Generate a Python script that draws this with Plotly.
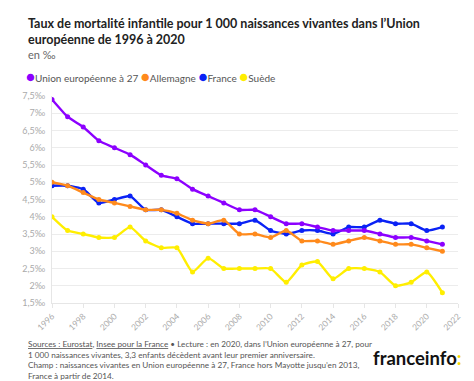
import plotly.graph_objects as go

years = list(range(1996, 2022))
ue27 = [7.4, 6.9, 6.6, 6.2, 6.0, 5.8, 5.5, 5.2, 5.1, 4.8, 4.6, 4.4, 4.2, 4.2, 4.0, 3.8, 3.8, 3.7, 3.6, 3.6, 3.6, 3.5, 3.4, 3.4, 3.3, 3.2]
allemagne = [5.0, 4.9, 4.7, 4.5, 4.4, 4.3, 4.2, 4.2, 4.1, 3.9, 3.8, 3.9, 3.5, 3.5, 3.4, 3.6, 3.3, 3.3, 3.2, 3.3, 3.4, 3.3, 3.2, 3.2, 3.1, 3.0]
france = [4.9, 4.9, 4.8, 4.4, 4.5, 4.6, 4.2, 4.2, 4.0, 3.8, 3.8, 3.8, 3.8, 3.9, 3.6, 3.5, 3.6, 3.6, 3.5, 3.7, 3.7, 3.9, 3.8, 3.8, 3.6, 3.7]
suede = [4.0, 3.6, 3.5, 3.4, 3.4, 3.7, 3.3, 3.1, 3.1, 2.4, 2.8, 2.5, 2.5, 2.5, 2.5, 2.1, 2.6, 2.7, 2.2, 2.5, 2.5, 2.4, 2.0, 2.1, 2.4, 1.8]

series_names = ["Union européenne à 27", "Allemagne", "France", "Suède"]
series_values = [ue27, allemagne, france, suede]
colors = ["#8c00ff", "#ff8a1c", "#0a22f5", "#ffee00"]

y_tickvals = [1.5, 2, 2.5, 3, 3.5, 4, 4.5, 5, 5.5, 6, 6.5, 7, 7.5]
y_ticktext = ["1,5‰", "2‰", "2,5‰", "3‰", "3,5‰", "4‰", "4,5‰", "5‰", "5,5‰", "6‰", "6,5‰", "7‰", "7,5‰"]
x_tickvals = list(range(1996, 2023, 2))

FONT = "Lato"
PW, PH = 406, 207
LEFT = (18 - 44) / PW

fig = go.Figure()
for name, vals, col in reversed(list(zip(series_names, series_values, colors))):
    fig.add_trace(go.Scatter(
        x=years, y=vals, name=name, mode="lines+markers",
        line=dict(color=col, width=2.4, shape="spline", smoothing=0.5),
        marker=dict(color=col, size=5),
        showlegend=False, hoverinfo="x+y+name",
    ))

legend_txt = "".join(
    f"<span style='color:{c};font-size:15px'>●</span><span style='color:#555'>{n} </span>"
    for n, c in zip(series_names, colors)
)

fig.update_layout(
    width=474, height=381,
    margin=dict(l=44, r=24, t=88, b=86),
    paper_bgcolor="white", plot_bgcolor="white",
    font=dict(family=FONT, color="#333"),
    separators=", ",
    xaxis=dict(
        range=[1996, 2022], tickvals=x_tickvals, tickangle=-45,
        tickfont=dict(size=8.5, color="#aaaaaa", family=FONT),
        showgrid=False, zeroline=False,
        showline=True, linecolor="#e6e6e6", linewidth=1,
        ticks="outside", ticklen=4, tickcolor="#e6e6e6",
    ),
    yaxis=dict(
        range=[1.5, 7.5], tickvals=y_tickvals, ticktext=y_ticktext,
        tickfont=dict(size=9, color="#aaaaaa", family=FONT),
        showgrid=True, gridcolor="#ececec", gridwidth=1,
        zeroline=False, showline=True, linecolor="#e6e6e6", linewidth=1,
        ticks="", ticklabelstandoff=4,
    ),
    annotations=[
        dict(xref="paper", yref="paper", x=LEFT, y=1 + (88 - 6) / PH, xanchor="left", yanchor="top",
             align="left", showarrow=False,
             text="<b>Taux de mortalité infantile pour 1 000 naissances vivantes dans l’Union<br>européenne de 1996 à 2020</b>",
             font=dict(size=12.5, color="#222", family=FONT)),
        dict(xref="paper", yref="paper", x=LEFT, y=1 + (88 - 46) / PH, xanchor="left", yanchor="middle",
             align="left", showarrow=False, text="en ‰",
             font=dict(size=11, color="#666", family=FONT)),
        dict(xref="paper", yref="paper", x=LEFT - 2 / PW, y=1 + (88 - 68) / PH, xanchor="left", yanchor="middle",
             align="left", showarrow=False, text=legend_txt,
             font=dict(size=10, color="#555", family=FONT)),
        dict(xref="paper", yref="paper", x=LEFT, y=-(335 - 295 - 6) / PH, xanchor="left", yanchor="top",
             align="left", showarrow=False,
             text="<u>Sources : Eurostat</u>, <u>Insee pour la France</u> • Lecture : en 2020, dans l’Union européenne à 27, pour<br>"
                  "1 000 naissances vivantes, 3,3 enfants décèdent avant leur premier anniversaire.<br>"
                  "Champ : naissances vivantes en Union européenne à 27, France hors Mayotte jusqu’en 2013,<br>"
                  "France à partir de 2014.",
             font=dict(size=8.2, color="#555", family=FONT)),
        dict(xref="paper", yref="paper", x=(456 - 44) / PW, y=-(350 - 295) / PH, xanchor="right", yanchor="middle",
             showarrow=False,
             text="<b>franceinfo<span style='color:#f5d800'>:</span></b>",
             font=dict(size=18.5, color="#111", family=FONT)),
    ],
)

fig.write_html("out.html")
